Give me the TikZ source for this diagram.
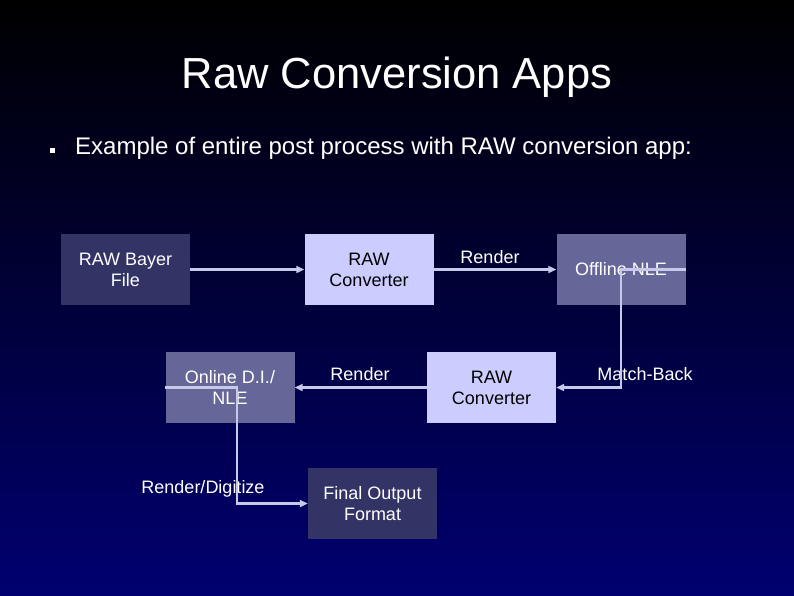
\documentclass[tikz,border=0pt]{standalone}
\usepackage{fontspec}
\setmainfont{Liberation Sans}
\usetikzlibrary{arrows.meta}
\definecolor{bgtop}{RGB}{0,0,0}
\definecolor{bgmid}{RGB}{0,0,45}
\definecolor{bgbot}{RGB}{0,0,112}
\definecolor{darkbox}{RGB}{51,51,102}
\definecolor{midbox}{RGB}{102,102,153}
\definecolor{lightbox}{RGB}{204,204,255}
\definecolor{linkcol}{RGB}{200,200,232}
\tikzset{
  procbox/.style={minimum width=129pt, minimum height=71pt, inner sep=0pt, align=center,
    font=\fontsize{18}{21}\selectfont},
  darkproc/.style={procbox, fill=darkbox, text=white},
  midproc/.style={procbox, fill=midbox, text=white},
  lightproc/.style={procbox, fill=lightbox, text=black},
  link/.style={draw=linkcol, line width=2.4pt, -{Triangle[length=8pt,width=7pt]}},
  linklabel/.style={text=white, font=\fontsize{18}{21}\selectfont, inner sep=0pt}
}
\begin{document}
\begin{tikzpicture}[x=1pt,y=-1pt]
\shade[top color=bgtop, middle color=bgmid, bottom color=bgbot] (0,0) rectangle (794,595);
\useasboundingbox (0,0) rectangle (794,595);
\node[text=white, anchor=base, inner sep=0pt, font=\fontsize{43.5}{52}\selectfont] (title) at (397,88) {Raw Conversion Apps};
\fill[white] (50,148) rectangle (55,153);
\node[text=white, anchor=base west, inner sep=0pt, font=\fontsize{24}{28}\selectfont] (bullet) at (75,154) {Example of entire post process with RAW conversion app:};

\node[darkproc] (bayer) at (125.5,269.5) {RAW Bayer\\File};
\node[lightproc] (conv1) at (369,269.5) {RAW\\Converter};
\node[midproc] (offline) at (621,269.5) {Offline NLE};
\node[midproc] (online) at (230,387.5) {Online D.I./\\NLE};
\node[lightproc] (conv2) at (491.5,387.5) {RAW\\Converter};
\node[darkproc] (final) at (372.5,503.5) {Final Output\\Format};

\node[linklabel] (lr1) at (490,257) {Render};
\node[linklabel] (lr2) at (360,374) {Render};
\node[linklabel] (lmb) at (645,374) {Match-Back};
\node[linklabel] (lrd) at (203,489) {Render/Digitize};

\coordinate (mbturn) at (offline.center);
\coordinate (rdturn) at ([xshift=7pt]online.center);

\draw[link] (bayer.east) -- (conv1.west);
\draw[link] (conv1.east) -- (offline.west);
\draw[link] (offline.east) -- (mbturn) -- (mbturn |- conv2.east) -- (conv2.east);
\draw[link] (conv2.west) -- (online.east);
\draw[link] (online.west) -- (rdturn) -- (rdturn |- final.west) -- (final.west);
\end{tikzpicture}
\end{document}
